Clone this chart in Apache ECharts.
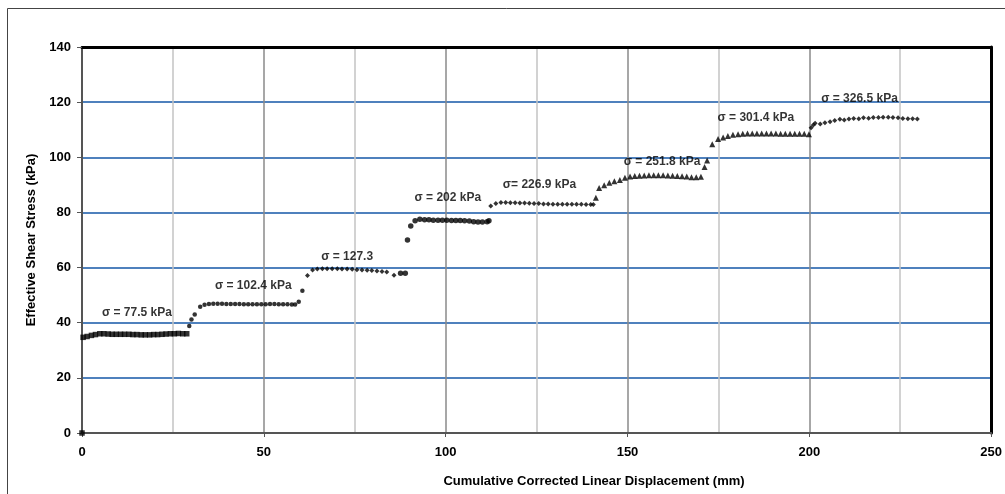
<!DOCTYPE html>
<html>
<head>
<meta charset="utf-8">
<script src="https://cdn.jsdelivr.net/npm/echarts@6/dist/echarts.min.js"></script>
<style>html,body{margin:0;padding:0;background:#fff}#c{width:1005px;height:494px}</style>
</head>
<body>
<div id="c"></div>
<script>
// Series data: [displacement (mm), effective shear stress (kPa)]
const s775 = [[0,0],[0.3,34.7],[1.4,35.0],[2.6,35.4],[3.7,35.7],[4.9,36.0],[6.0,36.0],[7.2,35.9],[8.3,35.8],[9.4,35.8],[10.6,35.8],[11.7,35.8],[12.9,35.8],[14.0,35.7],[15.1,35.7],[16.3,35.6],[17.4,35.6],[18.6,35.6],[19.7,35.7],[20.8,35.7],[22.0,35.8],[23.1,35.9],[24.3,36.0],[25.4,36.0],[26.5,36.1],[27.7,36.0],[28.8,36.0]];
const s1024 = [[29.5,38.8],[30.1,41.2],[31.0,43.0],[32.5,45.8],[33.7,46.5],[34.9,46.8],[36.1,46.9],[37.3,46.9],[38.5,46.9],[39.7,46.8],[40.9,46.8],[42.1,46.8],[43.3,46.8],[44.5,46.7],[45.7,46.7],[46.9,46.7],[48.1,46.7],[49.3,46.7],[50.5,46.7],[51.7,46.8],[52.9,46.8],[54.1,46.7],[55.3,46.7],[56.5,46.7],[57.7,46.6],[58.6,46.6],[59.6,47.6],[60.6,51.6]];
const s1273 = [[62.0,57.1],[63.4,59.1],[64.7,59.5],[66.1,59.6],[67.4,59.6],[68.8,59.6],[70.2,59.6],[71.5,59.5],[72.9,59.5],[74.3,59.4],[75.6,59.2],[77.0,59.1],[78.4,59.0],[79.7,58.9],[81.1,58.8],[82.5,58.6],[83.8,58.4],[85.8,57.2]];
const s202 = [[87.6,57.9],[88.9,57.9],[89.5,70.0],[90.4,75.1],[91.6,77.0],[92.9,77.5],[94.2,77.3],[95.4,77.3],[96.6,77.2],[97.9,77.2],[99.1,77.2],[100.3,77.2],[101.6,77.1],[102.8,77.1],[104.0,77.1],[105.2,77.0],[106.5,76.9],[107.7,76.6],[108.9,76.5],[110.1,76.5],[111.4,76.6],[111.9,77.0]];
const s2269 = [[112.4,82.3],[113.8,83.2],[115.2,83.6],[116.5,83.6],[117.8,83.5],[119.1,83.5],[120.4,83.4],[121.7,83.4],[123.0,83.3],[124.3,83.2],[125.6,83.2],[126.9,83.1],[128.2,83.1],[129.5,83.0],[130.8,83.0],[132.1,83.0],[133.4,83.0],[134.7,83.0],[136.0,83.0],[137.3,83.0],[138.6,82.9],[139.9,82.9],[140.6,82.9]];
const s2518 = [[141.3,85.3],[142.2,88.9],[143.6,89.9],[145.0,90.8],[146.4,91.3],[147.9,91.8],[149.3,92.6],[150.7,93.0],[152.0,93.2],[153.3,93.3],[154.6,93.4],[155.9,93.5],[157.2,93.5],[158.5,93.5],[159.8,93.5],[161.1,93.4],[162.4,93.3],[163.7,93.2],[165.0,93.1],[166.3,93.0],[167.6,92.8],[168.9,92.8],[170.2,92.9],[171.2,96.5],[171.9,98.8]];
const s3014 = [[173.3,104.7],[174.9,106.6],[176.3,107.2],[177.6,107.7],[179.0,108.2],[180.4,108.4],[181.7,108.5],[183.0,108.6],[184.3,108.6],[185.6,108.6],[186.9,108.6],[188.2,108.6],[189.5,108.6],[190.8,108.6],[192.1,108.5],[193.4,108.5],[194.7,108.5],[196.0,108.5],[197.3,108.5],[198.6,108.5],[199.9,108.4]];
const s3265 = [[200.5,110.7],[201.1,111.7],[201.6,112.3],[203.0,112.1],[204.3,112.5],[205.7,112.9],[207.0,113.3],[208.4,113.8],[209.6,113.5],[210.9,113.9],[212.2,114.1],[213.6,114.0],[214.9,114.3],[216.3,114.2],[217.6,114.4],[219.0,114.4],[220.3,114.5],[221.7,114.5],[223.0,114.4],[224.4,114.3],[225.7,114.1],[227.1,114.0],[228.4,114.0],[229.7,113.9]];
// Annotation labels: [x, y, text]
const stressLabels = [[15.1,43.5,'σ = 77.5 kPa'],[47.1,53.3,'σ = 102.4 kPa'],[72.9,63.8,'σ = 127.3'],[100.6,85.2,'σ = 202 kPa'],[125.8,90.0,'σ= 226.9 kPa'],[159.5,98.3,'σ = 251.8 kPa'],[185.3,114.3,'σ = 301.4 kPa'],[213.8,121.1,'σ = 326.5 kPa']];
const xTitle = 'Cumulative Corrected Linear Displacement (mm)';
const yTitle = 'Effective Shear Stress (kPa)';

const FONT = '"Liberation Sans", Arial, sans-serif';
const chart = echarts.init(document.getElementById('c'), null, {renderer:'canvas'});
function sc(data, symbol, size){
  return {type:'scatter', data:data, symbol:symbol, symbolSize:size, itemStyle:{color:'#000'}, silent:true, z:5};
}
chart.setOption({
  animation:false,
  backgroundColor:'#fff',
  grid:{left:82, right:7, top:47, bottom:61, containLabel:false},
  xAxis:[{
    type:'value', min:0, max:250, interval:50,
    axisLine:{show:true, onZero:false, lineStyle:{color:'#555', width:2}},
    axisTick:{show:true, length:4, lineStyle:{color:'#555'}},
    axisLabel:{show:true, color:'#000', fontFamily:FONT, fontWeight:'bold', fontSize:13, margin:13},
    splitLine:{show:true, lineStyle:{color:'#8a8a8a', width:1.5}},
    minorTick:{show:false, splitNumber:2},
    minorSplitLine:{show:true, lineStyle:{color:'#c4c4c4', width:1.5}}
  },{
    type:'value', min:0, max:250, position:'top',
    axisLine:{show:true, onZero:false, lineStyle:{color:'#000', width:3}},
    axisTick:{show:false}, axisLabel:{show:false}, splitLine:{show:false}
  }],
  yAxis:[{
    type:'value', min:0, max:140, interval:20,
    axisLine:{show:true, onZero:false, lineStyle:{color:'#555', width:2}},
    axisTick:{show:true, length:5, lineStyle:{color:'#555'}},
    axisLabel:{color:'#000', fontFamily:FONT, fontWeight:'bold', fontSize:13, margin:11},
    splitLine:{show:true, lineStyle:{color:'#4F81BD', width:2}},
    name:yTitle, nameLocation:'middle', nameGap:44, nameRotate:90,
    nameTextStyle:{color:'#000', fontFamily:FONT, fontWeight:'bold', fontSize:13}
  },{
    type:'value', min:0, max:140, position:'right',
    axisLine:{show:true, onZero:false, lineStyle:{color:'#000', width:3}},
    axisTick:{show:false}, axisLabel:{show:false}, splitLine:{show:false}
  }],
  graphic:[
    {type:'rect', shape:{x:7.5, y:8.5, width:1100, height:600}, style:{fill:null, stroke:'#444', lineWidth:1}, silent:true, z:-10},
    {type:'text', x:594, y:481, style:{text:xTitle, fill:'#000', font:'bold 13px '+FONT, textAlign:'center', textVerticalAlign:'middle'}, silent:true}
  ],
  series:[
    sc(s775,'rect',5.5),
    sc(s1024,'circle',4.5),
    sc(s1273,'diamond',5),
    sc(s202,'circle',5.5),
    sc(s2269,'diamond',5),
    sc(s2518,'triangle',6),
    sc(s3014,'triangle',6),
    sc(s3265,'diamond',5),
    {type:'scatter', data:stressLabels.map(function(d){return {value:[d[0],d[1]], name:d[2]};}),
      symbolSize:0, silent:true, z:6,
      label:{show:true, position:'inside', formatter:'{b}', color:'#000', fontFamily:FONT, fontWeight:'bold', fontSize:12}}
  ]
});
</script>
</body>
</html>
